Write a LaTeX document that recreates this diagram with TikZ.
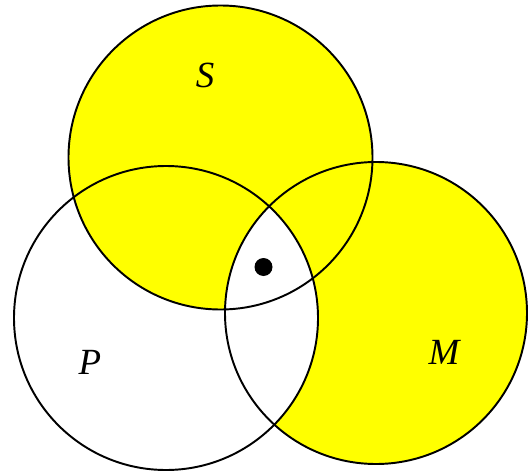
\documentclass[tikz,border=0pt]{standalone}
\usepackage{fontspec}
\setmainfont{Liberation Serif}
\usepackage{xcolor}
\usetikzlibrary{positioning}
\definecolor{vennyellow}{HTML}{FFFF00}

\begin{document}
\begin{tikzpicture}[
  font=\fontsize{21}{21}\selectfont\itshape,
  rim/.style={draw=black, line width=1.1pt},
  setlabel/.style={inner sep=0pt}
]
\useasboundingbox (0,0) rectangle (10.56,9.4);

% circle centres
\coordinate (cS) at (4.41,6.25);
\coordinate (cP) at (3.32,3.04);
\coordinate (cM) at (7.52,3.14);

% shaded regions
\fill[vennyellow] (cS) circle (3.04);
\fill[vennyellow] (cM) circle (3.02);
\begin{scope}
  \clip (cP) circle (3.04);
  \fill[white] (cM) circle (3.02);
\end{scope}

% outlines
\draw[rim] (cS) circle (3.04);
\draw[rim] (cP) circle (3.04);
\draw[rim] (cM) circle (3.02);

% the element
\fill[black] (5.27,4.06) circle (0.18);

% labels
\node[setlabel] (lS) at (4.10,7.90) {S};
\node[setlabel] (lP) at (1.80,2.16) {P};
\node[setlabel] (lM) at (8.88,2.36) {M};
\end{tikzpicture}
\end{document}
